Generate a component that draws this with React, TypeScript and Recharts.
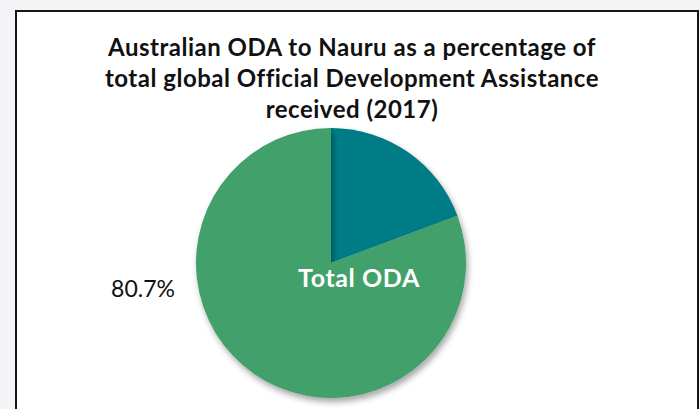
import React from 'react';
import { PieChart, Pie, Cell } from 'recharts';

const categories = ['Australian ODA', 'Total ODA'];
const shares = [19.3, 80.7];
const sliceColors = ['#057b86', '#42a06b'];
const titleLines = [
  'Australian ODA to Nauru as a percentage of',
  'total global Official Development Assistance',
  'received (2017)',
];

const data = categories.map((name, i) => ({ name, value: shares[i] }));

const FONT = 'Lato, "Open Sans", sans-serif';

const renderLabel = (props: any) => {
  const { cx, cy, outerRadius, index, name, value } = props;
  if (index !== 1) return null;
  return (
    <g>
      <text x={cx - outerRadius - 21} y={cy + 34} textAnchor="end" fill="#111" fontSize={23} fontFamily={FONT}>
        {value.toFixed(1)}%
      </text>
      <text
        x={cx + 28}
        y={cy + 24}
        textAnchor="middle"
        fill="#fff"
        fontSize={25}
        fontWeight={700}
        fontFamily={FONT}
        letterSpacing={0.6}
      >
        {name}
      </text>
    </g>
  );
};

export default function App() {
  return (
    <div style={{ position: 'fixed', left: 0, top: 0, width: 700, height: 409, background: '#f4f4f6', overflow: 'hidden' }}>
      <div
        style={{
          position: 'absolute',
          left: 15,
          top: 10,
          width: 680,
          height: 420,
          border: '2px solid #161616',
          background: '#fff',
        }}
      />
      <div
        style={{
          position: 'absolute',
          left: 10,
          top: 31,
          width: 684,
          textAlign: 'center',
          fontFamily: FONT,
          fontWeight: 700,
          fontSize: 24,
          letterSpacing: 0.5,
          lineHeight: '31px',
          color: '#111',
        }}
      >
        {titleLines.map((l, i) => (
          <div key={i}>{l}</div>
        ))}
      </div>
      <div style={{ position: 'absolute', left: 0, top: 0 }}>
        <PieChart width={700} height={409}>
          <defs>
            <filter id="pieShadow" x="-20%" y="-20%" width="140%" height="140%">
              <feDropShadow dx={2} dy={4} stdDeviation={3} floodColor="#000" floodOpacity={0.35} />
            </filter>
          </defs>
          <Pie
            data={data}
            dataKey="value"
            nameKey="name"
            cx={326}
            cy={258}
            outerRadius={135}
            startAngle={90}
            endAngle={-270}
            stroke="none"
            label={renderLabel}
            labelLine={false}
            isAnimationActive={false}
            style={{ filter: 'url(#pieShadow)' }}
          >
            {data.map((d, i) => (
              <Cell key={d.name} fill={sliceColors[i]} />
            ))}
          </Pie>
        </PieChart>
      </div>
    </div>
  );
}
